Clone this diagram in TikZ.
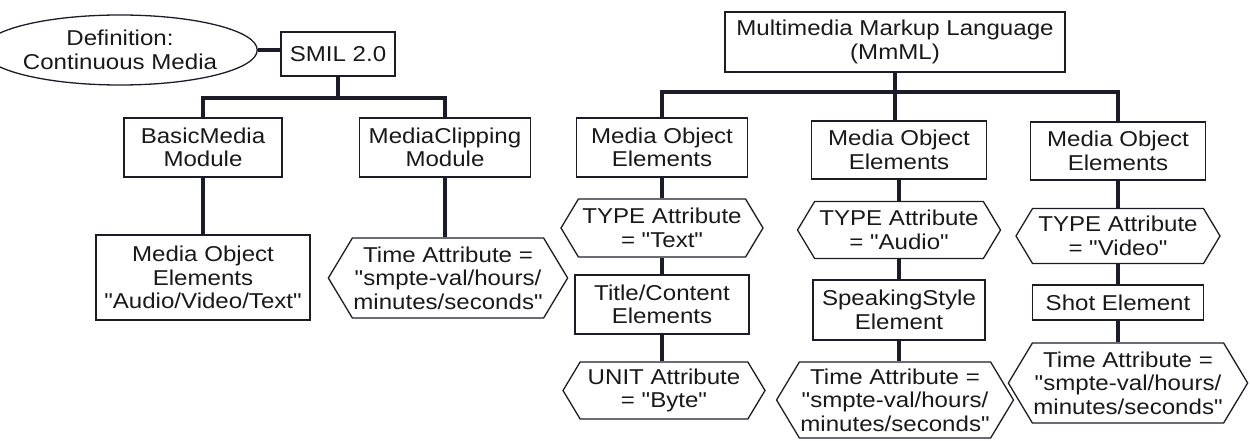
\documentclass[tikz,border=0pt]{standalone}
\usepackage{fontspec}
\setmainfont{Liberation Sans}[FakeStretch=1.12, Ligatures=TeXOff]
\usetikzlibrary{shapes.geometric,shapes.symbols}
\definecolor{ink}{RGB}{28,28,40}
\definecolor{txt}{RGB}{25,25,25}
\newcommand{\dq}{"}
\tikzset{
  base/.style={draw=ink, line width=1.3pt, text=txt, align=center, inner sep=1pt,
    font=\fontsize{21.5}{23.5}\selectfont},
  rbox/.style={base, rectangle, minimum width=#1},
  hexa/.style={base, signal, signal to=east and west, signal pointer angle=118, minimum width=#1},
  conn/.style={draw=ink, line width=3.2pt},
}
\begin{document}
\begin{tikzpicture}[x=1pt,y=-1pt]
\useasboundingbox (0,0) rectangle (1250,441);
% left tree
\node[base, ellipse, minimum width=220, minimum height=70, inner sep=0pt] (def) at (120,50) {Definition:\\Continuous Media};
\node[rbox=114, minimum height=44] (smil) at (338,54) {SMIL 2.0};
\node[rbox=158, minimum height=59] (basic) at (203,147.5) {BasicMedia\\Module};
\node[rbox=171, minimum height=59] (clip) at (445,147.5) {MediaClipping\\Module};
\node[rbox=214, minimum height=85] (mo0) at (203,277.5) {Media Object\\Elements\\\dq Audio/Video/Text\dq};
\node[hexa=238, minimum height=80] (time0) at (448,278) {Time Attribute =\\\dq smpte-val/hours/\\minutes/seconds\dq};
% right tree
\node[rbox=340, minimum height=60] (mmml) at (895,42) {Multimedia Markup Language\\(MmML)};
\node[rbox=171, minimum height=59] (mo1) at (662,147.5) {Media Object\\Elements};
\node[rbox=175, minimum height=58] (mo2) at (899,150) {Media Object\\Elements};
\node[rbox=175, minimum height=58] (mo3) at (1118,151) {Media Object\\Elements};
\node[hexa=202, minimum height=58] (type1) at (662,228) {TYPE Attribute\\= \dq Text\dq};
\node[hexa=203, minimum height=57] (type2) at (899,230) {TYPE Attribute\\= \dq Audio\dq};
\node[hexa=204, minimum height=55] (type3) at (1118,236) {TYPE Attribute\\= \dq Video\dq};
\node[rbox=174, minimum height=59] (title) at (662,304.5) {Title/Content\\Elements};
\node[rbox=172, minimum height=60] (speak) at (899,310) {SpeakingStyle\\Element};
\node[rbox=171, minimum height=35] (shot) at (1118,302.5) {Shot Element};
\node[hexa=202, minimum height=57] (unit) at (664,390.5) {UNIT Attribute\\= \dq Byte\dq};
\node[hexa=235, minimum height=76] (time2) at (895,400) {Time Attribute =\\\dq smpte-val/hours/\\minutes/seconds\dq};
\node[hexa=234, minimum height=80] (time3) at (1128,383) {Time Attribute =\\\dq smpte-val/hours/\\minutes/seconds\dq};
% buses
\coordinate (bus1) at (0,98);
\coordinate (bus2) at (0,92);
% connectors left
\draw[conn] (def.east) -- (def.east -| smil.west);
\draw[conn] (smil.south) -- (smil.south |- bus1);
\draw[conn] (basic.north) |- (bus1 -| clip.north) -- (clip.north);
\draw[conn] (basic.south) -- (mo0.north);
\draw[conn] (clip.south) -- (clip.south |- time0.north);
% connectors right
\draw[conn] (mmml.south) -- (mmml.south |- mo2.north);
\draw[conn] (mo1.north) |- (bus2 -| mo3.north) -- (mo3.north);
\draw[conn] (mo1.south) -- (type1.north);
\draw[conn] (type1.south) -- (title.north);
\draw[conn] (title.south) -- (title.south |- unit.north);
\draw[conn] (mo2.south) -- (type2.north);
\draw[conn] (type2.south) -- (speak.north);
\draw[conn] (speak.south) -- (speak.south |- time2.north);
\draw[conn] (mo3.south) -- (type3.north);
\draw[conn] (type3.south) -- (shot.north);
\draw[conn] (shot.south) -- (shot.south |- time3.north);
\end{tikzpicture}
\end{document}
